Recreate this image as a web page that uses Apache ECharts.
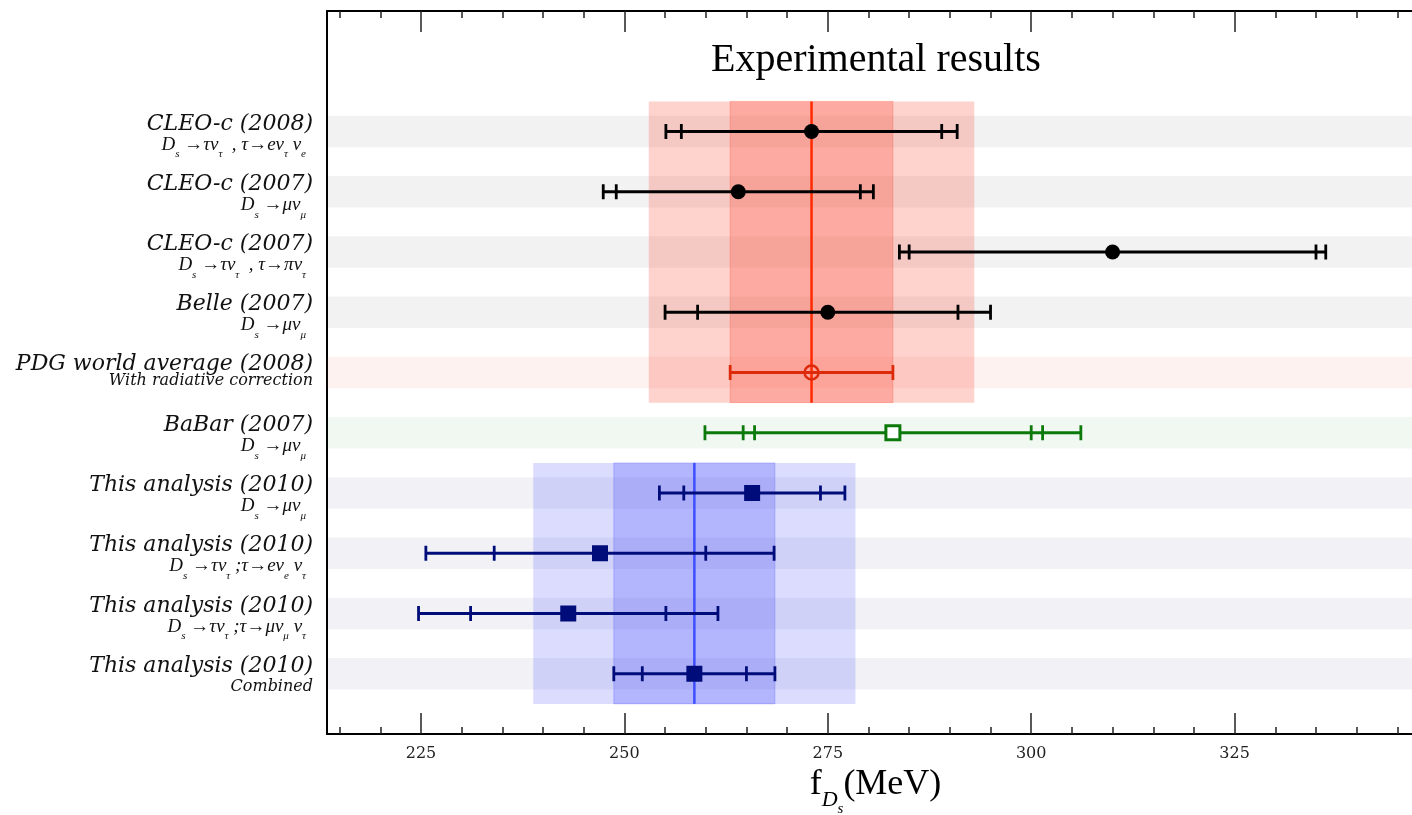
<!DOCTYPE html>
<html><head><meta charset="utf-8">
<script src="https://cdn.jsdelivr.net/npm/echarts@6/dist/echarts.min.js"></script>
<style>html,body{margin:0;padding:0;background:#fff}#c{width:1412px;height:815px}</style>
</head><body><div id="c"></div>
<script>
// ---------------- data ----------------
const rowTitles = ['CLEO-c (2008)', 'CLEO-c (2007)', 'CLEO-c (2007)', 'Belle (2007)', 'PDG world average (2008)', 'BaBar (2007)', 'This analysis (2010)', 'This analysis (2010)', 'This analysis (2010)', 'This analysis (2010)'];
// subtitle: plain string, or list of [text, subscript] pieces
const rowSubtitles = [
  [['D', 's'], [' →τν', 'τ'], ['  , τ→eν', 'τ'], [' ν', 'e']],
  [['D', 's'], [' →μν', 'μ']],
  [['D', 's'], [' →τν', 'τ'], ['  , τ→πν', 'τ']],
  [['D', 's'], [' →μν', 'μ']],
  'With radiative correction',
  [['D', 's'], [' →μν', 'μ']],
  [['D', 's'], [' →μν', 'μ']],
  [['D', 's'], [' →τν', 'τ'], [' ;τ→eν', 'e'], [' ν', 'τ']],
  [['D', 's'], [' →τν', 'τ'], [' ;τ→μν', 'μ'], [' ν', 'τ']],
  'Combined'
];
const centralValues = [273, 264, 310, 275, 273, 283, 265.7, 247.0, 243.1, 258.6];
const errorSizes = [[16, 17.9], [15, 16.6], [25, 26.2], [16, 20], [10], [17, 18.4, 23.1], [8.4, 11.4], [13, 21.4], [12, 18.4], [6.4, 9.9]];
const rowGroups = ['exp', 'exp', 'exp', 'exp', 'pdg', 'babar', 'this', 'this', 'this', 'this'];
const bandGroups = ['pdg', 'this'];
const bandCenters = [273, 258.6];
const bandInner = [10, 9.9];
const bandOuter = [20, 19.8];
const bandRows = [[0, 4], [6, 9]];
const majorTicks = [225, 250, 275, 300, 325];
const minorTicks = [215, 220, 230, 235, 240, 245, 255, 260, 265, 270, 280, 285, 290, 295, 305, 310, 315, 320, 330, 335, 340, 345];
const xMin = 213.45, xMax = 346.8;

// ---------------- styles ----------------
const groupStyle = {
  exp:   { color: '#000000', symbol: 'circle', size: 15, hollow: false, stripe: 'rgba(0,0,0,0.05)' },
  pdg:   { color: '#dd2a0a', symbol: 'circle', size: 14, hollow: true, stripe: 'rgba(225,70,40,0.07)' },
  babar: { color: '#0b7a0b', symbol: 'rect', size: 14, hollow: true, stripe: 'rgba(0,110,0,0.055)' },
  this:  { color: '#000c7a', symbol: 'rect', size: 16, hollow: false, stripe: 'rgba(0,0,70,0.05)' }
};
const bandStyle = {
  pdg:  { outer: 'rgba(250,60,40,0.23)', inner: 'rgba(250,60,40,0.26)', line: '#ff2a00' },
  this: { outer: 'rgba(40,50,250,0.17)', inner: 'rgba(40,50,250,0.22)', line: '#3d4dff' }
};
const SERIF = "'DejaVu Serif', serif";
const TIMES = "'Liberation Serif', 'Times New Roman', serif";

function rowLabel(i) {
  const sub = rowSubtitles[i];
  if (typeof sub === 'string') {
    const compact = rowGroups[i] === 'pdg';
    return '{' + (compact ? 'tp' : 't') + '|' + rowTitles[i] + '}\n{' + (compact ? 'cp' : 'c') + '|' + sub + '}';
  }
  let s = '{t|' + rowTitles[i] + '}\n';
  sub.forEach((p, k) => {
    s += '{f|' + p[0] + '}' + '{' + (k === sub.length - 1 ? 'fsl' : 'fs') + '|' + p[1] + '}';
  });
  return s;
}

const chart = echarts.init(document.getElementById('c'), null, { renderer: 'canvas' });

const xAxisCommon = { type: 'value', min: xMin, max: xMax, splitLine: { show: false } };
const tickLine = { color: '#222', width: 1.5 };

const scatterSeries = Object.keys(groupStyle).map(g => {
  const st = groupStyle[g];
  return {
    type: 'scatter', z: 10,
    symbol: st.symbol, symbolSize: st.size,
    itemStyle: st.hollow
      ? { color: g === 'babar' ? '#ffffff' : 'rgba(0,0,0,0)', borderColor: st.color, borderWidth: g === 'babar' ? 3 : 2.5, opacity: 1 }
      : { color: st.color, opacity: 1 },
    emphasis: { disabled: true },
    data: centralValues.map((v, i) => rowGroups[i] === g ? [v, i] : null).filter(d => d)
  };
});

chart.setOption({
  animation: false,
  backgroundColor: '#ffffff',
  title: {
    text: 'Experimental results', left: 711, top: 40, padding: 0,
    textStyle: { fontFamily: TIMES, fontSize: 40, fontWeight: 'normal', color: '#000' }
  },
  grid: { left: 327, right: 0, top: 11, bottom: 81, containLabel: false, outerBoundsMode: 'none' },
  xAxis: [
    Object.assign({}, xAxisCommon, {
      position: 'bottom',
      axisLine: { show: true, onZero: false, lineStyle: { color: '#000', width: 2 } },
      axisTick: { show: true, inside: true, length: 21, customValues: majorTicks, lineStyle: tickLine },
      axisLabel: { show: true, customValues: majorTicks, margin: 12, fontFamily: SERIF, fontSize: 16, color: '#222' },
      name: '{f|f}{d|D}{s|s}{m|(MeV)}', nameLocation: 'middle', nameGap: 33, nameMoveOverlap: false,
      nameTextStyle: {
        padding: [0, 0, 0, 12],
        rich: {
          f: { fontFamily: TIMES, fontSize: 36, padding: [0, 0, 44, 0], color: '#000' },
          d: { fontFamily: TIMES, fontStyle: 'italic', fontSize: 22, padding: [15, 0, 29, 0], color: '#000' },
          s: { fontFamily: TIMES, fontStyle: 'italic', fontSize: 15, padding: [24, 0, 20, 0], color: '#000' },
          m: { fontFamily: TIMES, fontSize: 36, padding: [0, 0, 44, 0], color: '#000' }
        }
      }
    }),
    Object.assign({}, xAxisCommon, {
      position: 'bottom',
      axisLine: { show: false, onZero: false },
      axisTick: { show: true, inside: true, length: 7, customValues: minorTicks, lineStyle: tickLine },
      axisLabel: { show: false }
    }),
    Object.assign({}, xAxisCommon, {
      position: 'top',
      axisLine: { show: true, onZero: false, lineStyle: { color: '#000', width: 2 } },
      axisTick: { show: true, inside: true, length: 21, customValues: majorTicks, lineStyle: tickLine },
      axisLabel: { show: false }
    }),
    Object.assign({}, xAxisCommon, {
      position: 'top',
      axisLine: { show: false, onZero: false },
      axisTick: { show: true, inside: true, length: 7, customValues: minorTicks, lineStyle: tickLine },
      axisLabel: { show: false }
    })
  ],
  yAxis: {
    type: 'value', min: -2, max: 10, interval: 1, inverse: true,
    axisLine: { show: true, onZero: false, lineStyle: { color: '#000', width: 2 } },
    axisTick: { show: false }, splitLine: { show: false },
    axisLabel: {
      margin: 14, align: 'right',
      formatter: function (v) {
        const i = Math.round(v);
        if (i < 0 || i >= rowTitles.length || Math.abs(v - i) > 1e-6) return '';
        return rowLabel(i);
      },
      rich: {
        t:  { fontFamily: SERIF, fontStyle: 'italic', fontSize: 22, lineHeight: 26, color: '#111' },
        tp: { fontFamily: SERIF, fontStyle: 'italic', fontSize: 22, lineHeight: 16, color: '#111' },
        c:  { fontFamily: SERIF, fontStyle: 'italic', fontSize: 16, lineHeight: 15, color: '#111' },
        cp: { fontFamily: SERIF, fontStyle: 'italic', fontSize: 16, lineHeight: 16, color: '#111' },
        f:  { fontFamily: TIMES, fontStyle: 'italic', fontSize: 19, lineHeight: 15, color: '#111' },
        fs: { fontFamily: TIMES, fontStyle: 'italic', fontSize: 11, lineHeight: 15, padding: [20, 0, 0, 0], color: '#111' },
        fsl:{ fontFamily: TIMES, fontStyle: 'italic', fontSize: 11, lineHeight: 15, padding: [20, 7, 0, 0], color: '#111' }
      }
    }
  },
  series: [
    {
      // row stripes
      type: 'custom', z: 1, silent: true,
      data: rowGroups.map((g, i) => [xMin, i]),
      renderItem: function (params, api) {
        const cs = params.coordSys;
        const i = api.value(1);
        const top = api.coord([xMin, i - 0.26])[1];
        const bot = api.coord([xMin, i + 0.26])[1];
        return { type: 'rect', shape: { x: cs.x, y: top, width: cs.width, height: bot - top },
          style: { fill: groupStyle[rowGroups[params.dataIndex]].stripe } };
      }
    },
    {
      // average bands
      type: 'custom', z: 2, silent: true,
      data: bandCenters.map((c, k) => [c, bandRows[k][0], bandRows[k][1]]),
      renderItem: function (params, api) {
        const k = params.dataIndex;
        const st = bandStyle[bandGroups[k]];
        const c = bandCenters[k];
        const r0 = bandRows[k][0] - 0.5, r1 = bandRows[k][1] + 0.5;
        const o0 = api.coord([c - bandOuter[k], r0]), o1 = api.coord([c + bandOuter[k], r1]);
        const i0 = api.coord([c - bandInner[k], r0]), i1 = api.coord([c + bandInner[k], r1]);
        const m0 = api.coord([c, r0]), m1 = api.coord([c, r1]);
        return { type: 'group', children: [
          { type: 'rect', shape: { x: o0[0], y: o0[1], width: o1[0] - o0[0], height: o1[1] - o0[1] }, style: { fill: st.outer } },
          { type: 'rect', shape: { x: i0[0], y: i0[1], width: i1[0] - i0[0], height: i1[1] - i0[1] }, style: { fill: st.inner, stroke: st.inner, lineWidth: 1 } },
          { type: 'line', shape: { x1: m0[0], y1: m0[1], x2: m1[0], y2: m1[1] }, style: { stroke: st.line, lineWidth: 2.5 } }
        ] };
      }
    },
    {
      // error bars
      type: 'custom', z: 5, silent: true,
      data: centralValues.map((v, i) => [v, i]),
      renderItem: function (params, api) {
        const i = params.dataIndex;
        const v = centralValues[i];
        const errs = errorSizes[i];
        const col = groupStyle[rowGroups[i]].color;
        const maxE = Math.max.apply(null, errs);
        const a = api.coord([v - maxE, i]), b = api.coord([v + maxE, i]);
        const children = [{ type: 'line', shape: { x1: a[0], y1: a[1], x2: b[0], y2: b[1] }, style: { stroke: col, lineWidth: 2.8 } }];
        errs.forEach(e => {
          [-1, 1].forEach(sgn => {
            const p = api.coord([v + sgn * e, i]);
            children.push({ type: 'line', shape: { x1: p[0], y1: p[1] - 7.5, x2: p[0], y2: p[1] + 7.5 }, style: { stroke: col, lineWidth: 2.8 } });
          });
        });
        return { type: 'group', children: children };
      }
    }
  ].concat(scatterSeries)
});
</script>
</body></html>
